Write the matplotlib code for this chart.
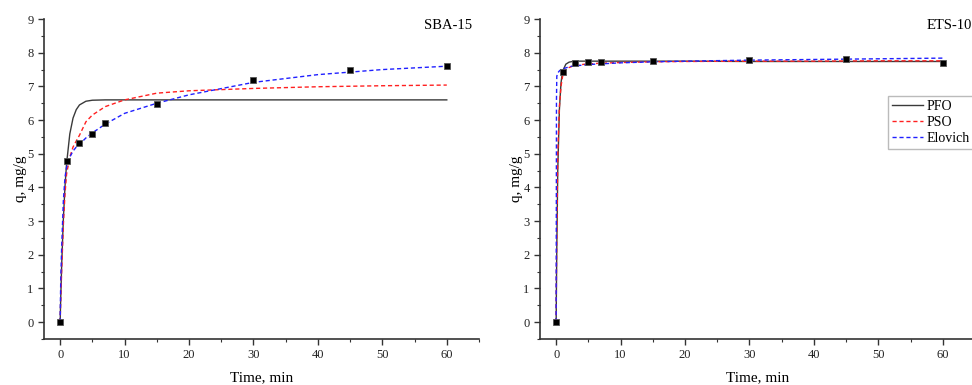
import matplotlib
import matplotlib.pyplot as plt
from matplotlib.ticker import MultipleLocator

matplotlib.use("agg")
plt.rcParams["font.family"] = ["Liberation Serif", "DejaVu Serif"]

# measured points
t_data = [0, 1, 3, 5, 7, 15, 30, 45, 60]
q_sba = [0, 4.8, 5.33, 5.58, 5.9, 6.48, 7.2, 7.5, 7.6]
q_ets = [0, 7.43, 7.70, 7.73, 7.73, 7.76, 7.79, 7.80, 7.70]

# model curves
t_fit = [0, 0.05, 0.1, 0.25, 0.5, 0.75, 1, 1.5, 2, 2.5, 3, 4, 5, 7, 10, 15, 20, 30, 40, 50, 60]
sba_pfo = [0, 0.4, 0.78, 1.77, 3.07, 4.02, 4.71, 5.59, 6.06, 6.31, 6.45, 6.56, 6.59,
           6.6, 6.6, 6.6, 6.6, 6.6, 6.6, 6.6, 6.6]
sba_pso = [0, 0.35, 0.7, 1.6, 2.9, 3.8, 4.4, 4.9, 5.2, 5.38, 5.55, 5.95, 6.15,
           6.4, 6.6, 6.8, 6.87, 6.94, 6.99, 7.02, 7.04]
sba_elo = [0, 0.7, 1.3, 2.3, 3.6, 4.3, 4.6, 4.9, 5.08, 5.2, 5.28, 5.47, 5.62,
           5.88, 6.2, 6.5, 6.75, 7.12, 7.35, 7.5, 7.6]
ets_pfo = [0, 1.2, 2.2, 4.5, 6.3, 7.1, 7.45, 7.66, 7.72, 7.74, 7.75, 7.75, 7.75,
           7.75, 7.75, 7.75, 7.75, 7.74, 7.74, 7.74, 7.74]
ets_pso = [0, 1.5, 2.7, 5.0, 6.4, 7.0, 7.3, 7.5, 7.56, 7.6, 7.62, 7.65, 7.67,
           7.69, 7.71, 7.73, 7.74, 7.75, 7.75, 7.76, 7.76]
ets_elo = [0, 6.6, 7.3, 7.4, 7.46, 7.5, 7.52, 7.55, 7.58, 7.6, 7.61, 7.63, 7.65,
           7.67, 7.7, 7.73, 7.75, 7.78, 7.8, 7.82, 7.84]

panels = [
    ("SBA-15", q_sba, sba_pfo, sba_pso, sba_elo, 0.0453, 0.874),
    ("ETS-10", q_ets, ets_pfo, ets_pso, ets_elo, 0.5556, 0.889),
]

fig = plt.figure(figsize=(9.72, 3.85), dpi=100)

for name, q, pfo, pso, elo, left, tx in panels:
    ax = fig.add_axes([left, 0.1195, 0.4475, 0.831])
    ax.plot(t_fit, pfo, color="#3a3a3a", lw=1.0, label="PFO")
    ax.plot(t_fit, pso, color="#ff2020", lw=1.0, ls=(0, (3, 2)), label="PSO")
    ax.plot(t_fit, elo, color="#2020ff", lw=1.0, ls=(0, (3, 2)), label="Elovich")
    ax.plot(t_data, q, ls="none", marker="s", ms=5, color="black",
            mec="#555555", mew=0.6, zorder=5)

    ax.set_xlim(-2.5, 65)
    ax.set_ylim(-0.5, 9)
    ax.xaxis.set_major_locator(MultipleLocator(10))
    ax.xaxis.set_minor_locator(MultipleLocator(5))
    ax.yaxis.set_major_locator(MultipleLocator(1))
    ax.yaxis.set_minor_locator(MultipleLocator(0.5))
    ax.tick_params(which="both", direction="out", labelsize=9, colors="#333333",
                   labelcolor="#222222")
    ax.tick_params(which="major", length=4, width=1)
    ax.tick_params(which="minor", length=2.5, width=0.8)

    for side in ["top", "right"]:
        ax.spines[side].set_visible(False)
    for side in ["left", "bottom"]:
        ax.spines[side].set_color("#333333")
        ax.spines[side].set_linewidth(1.2)

    ax.set_xlabel("Time, min", fontsize=11, labelpad=7)
    ax.set_ylabel("q, mg/g", fontsize=11, labelpad=0)
    ax.text(tx, 0.98, name, transform=ax.transAxes, fontsize=10.5,
            ha="left", va="center")

    if name == "ETS-10":
        ax.legend(loc="upper left", bbox_to_anchor=(0.80, 0.76), fontsize=10,
                  frameon=True, fancybox=False, edgecolor="#aaaaaa",
                  handlelength=2.2, borderpad=0.3, labelspacing=0.2,
                  handletextpad=0.3, borderaxespad=0)

fig.savefig("out.png", dpi=100)
plt.close("all")
